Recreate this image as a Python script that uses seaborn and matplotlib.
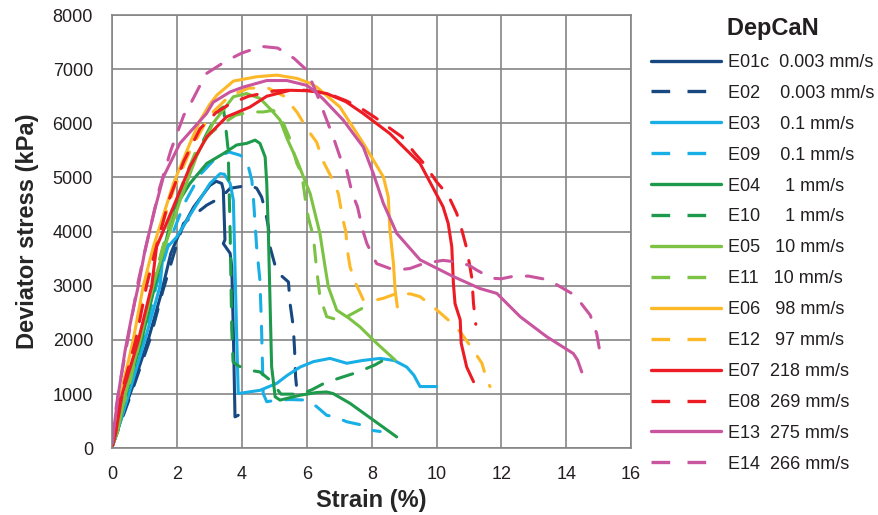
import numpy as np
import pandas as pd
import matplotlib
matplotlib.use("Agg")
import matplotlib.pyplot as plt
import seaborn as sns
from matplotlib.lines import Line2D

# ---------------- data ----------------
tests = ["E01c", "E02", "E03", "E09", "E04", "E10", "E05", "E11",
         "E06", "E12", "E07", "E08", "E13", "E14"]
legend_labels = ["E01c  0.003 mm/s", "E02    0.003 mm/s", "E03    0.1 mm/s",
                 "E09    0.1 mm/s", "E04     1 mm/s", "E10     1 mm/s",
                 "E05   10 mm/s", "E11   10 mm/s", "E06   98 mm/s",
                 "E12   97 mm/s", "E07  218 mm/s", "E08  269 mm/s",
                 "E13  275 mm/s", "E14  266 mm/s"]
legend_title = "DepCaN"
x_label = "Strain (%)"
y_label = "Deviator stress (kPa)"
x_ticks = [0, 2, 4, 6, 8, 10, 12, 14, 16]
y_ticks = [0, 1000, 2000, 3000, 4000, 5000, 6000, 7000, 8000]

e01c_strain = [0, 0.3, 0.6, 1.1, 1.5, 1.8, 2.05, 2.5, 3.0, 3.2, 3.37, 3.42, 3.47, 3.42, 3.63, 3.68, 3.73, 3.78, 3.88]
e01c_stress = [50, 600, 1100, 2000, 2850, 3600, 3950, 4450, 4850, 4930, 4890, 4770, 3850, 3780, 3600, 3350, 2120, 580, 610]

e02_strain = [0, 0.3, 0.6, 1.15, 1.55, 1.9, 2.19, 2.44, 2.91, 3.37, 3.63, 4.24, 4.45, 4.6, 4.71, 4.81, 4.86, 5.07, 5.43, 5.48, 5.58, 5.62, 5.65, 5.7]
e02_stress = [50, 550, 1050, 2000, 2900, 3600, 4150, 4270, 4490, 4640, 4800, 4860, 4800, 4640, 4400, 4090, 3720, 3260, 3070, 2670, 2240, 1800, 1320, 1010]

e03_strain = [0, 0.2, 0.5, 1.0, 1.47, 1.57, 1.75, 1.98, 2.49, 3.01, 3.32, 3.45, 3.63, 3.73, 3.78, 3.83, 3.88, 4.2, 4.55, 5.07, 5.4, 5.79, 6.2, 6.71, 7.23, 7.7, 8.26, 8.7, 9.08, 9.3, 9.49, 10.0]
e03_stress = [50, 400, 1000, 2000, 3000, 3660, 3750, 3900, 4400, 4890, 5070, 5060, 4890, 4580, 3350, 2120, 1010, 1040, 1070, 1200, 1350, 1500, 1600, 1660, 1570, 1620, 1660, 1620, 1500, 1350, 1140, 1140]

e09_strain = [0, 0.2, 0.45, 0.95, 1.35, 1.75, 2.2, 2.7, 3.22, 3.6, 3.94, 4.14, 4.3, 4.35, 4.45, 4.55, 4.6, 4.63, 4.65, 4.76, 5.07, 5.5, 5.99, 6.3, 6.61, 6.87, 7.23, 7.69, 7.9, 8.26]
e09_stress = [80, 500, 1000, 2000, 3000, 3800, 4500, 5050, 5380, 5470, 5410, 5320, 4950, 4600, 3700, 3100, 2200, 1500, 1010, 860, 890, 900, 890, 770, 610, 580, 490, 430, 340, 310]

e04_strain = [0, 0.15, 0.42, 0.9, 1.31, 1.6, 1.88, 2.39, 2.91, 3.42, 3.83, 4.14, 4.4, 4.55, 4.71, 4.76, 4.81, 4.86, 4.91, 5.02, 5.17, 5.79, 6.3, 6.61, 6.81, 7.33, 8.05, 8.77]
e04_stress = [50, 300, 1000, 2000, 3000, 3700, 4400, 4890, 5260, 5440, 5600, 5630, 5690, 5630, 5380, 4890, 3970, 2740, 1510, 950, 890, 980, 1030, 1040, 1010, 830, 520, 210]

e10_strain = [0, 0.4, 0.85, 1.25, 1.6, 2.0, 2.4, 2.9, 3.3, 3.42, 3.5, 3.57, 3.63, 3.68, 3.72, 3.83, 4.14, 4.55, 4.86, 5.2, 5.8, 6.15, 6.56, 7.12, 7.54, 8.1, 8.4]
e10_stress = [80, 1000, 2000, 3000, 3800, 4600, 5200, 5800, 6250, 6300, 5900, 5500, 4000, 2200, 1600, 1540, 1450, 1410, 1260, 1000, 1000, 1080, 1210, 1320, 1400, 1540, 1640]

e05_strain = [0, 0.15, 0.4, 0.85, 1.25, 1.6, 2.1, 2.6, 3.1, 3.73, 4.14, 4.55, 4.91, 5.17, 5.4, 5.69, 5.9, 6.1, 6.4, 6.56, 6.66, 6.92, 7.3, 7.64, 8.15, 8.72]
e05_stress = [50, 300, 1000, 2000, 3000, 3700, 4600, 5400, 6000, 6490, 6550, 6460, 6240, 6060, 5700, 5320, 5000, 4700, 3970, 3350, 2980, 2550, 2400, 2240, 1940, 1630]

e11_strain = [0, 0.2, 0.45, 0.85, 1.2, 1.5, 1.84, 2.2, 2.55, 3.0, 3.32, 3.8, 4.24, 4.65, 4.96, 5.2, 5.45, 5.69, 5.84, 5.95, 6.04, 6.2, 6.3, 6.4, 6.61, 6.9, 7.23, 7.69]
e11_stress = [80, 600, 1000, 2000, 2900, 3600, 4340, 4950, 5450, 5800, 5960, 6150, 6210, 6210, 6240, 6100, 5750, 5260, 5070, 4600, 4270, 3900, 3300, 2800, 2430, 2380, 2430, 2580]

e06_strain = [0, 0.1, 0.26, 0.64, 0.95, 1.26, 1.88, 2.39, 2.7, 3.0, 3.22, 3.73, 4.45, 5.07, 5.69, 6.1, 6.3, 7.02, 7.74, 8.36, 8.51, 8.56, 8.67, 8.72, 8.79]
e06_stress = [50, 400, 1000, 2000, 3000, 3720, 4890, 5630, 6050, 6350, 6520, 6780, 6860, 6890, 6830, 6740, 6670, 6300, 5630, 5010, 4640, 4030, 3410, 2930, 2610]

e12_strain = [0, 0.25, 0.66, 0.98, 1.3, 1.9, 2.4, 3.0, 3.6, 4.2, 4.8, 5.3, 5.7, 6.0, 6.3, 6.5, 6.8, 6.97, 7.1, 7.2, 7.25, 7.33, 7.5, 7.74, 8.0, 8.36, 8.77, 9.2, 9.49, 9.9, 10.36, 10.73, 11.09, 11.4, 11.55, 11.65]
e12_stress = [80, 1000, 2000, 3000, 3700, 4800, 5500, 6150, 6500, 6650, 6650, 6500, 6200, 5900, 5650, 5300, 4950, 4700, 4250, 4000, 3650, 3350, 3050, 2740, 2720, 2770, 2860, 2850, 2800, 2610, 2370, 2150, 1850, 1570, 1260, 1140]

e07_strain = [0, 0.1, 0.3, 0.8, 1.21, 1.36, 1.88, 2.39, 2.91, 3.52, 4.24, 4.76, 5.48, 6.1, 6.61, 7.2, 7.74, 8.56, 9.49, 10.2, 10.36, 10.47, 10.52, 10.57, 10.73, 10.76, 10.93, 11.14]
e07_stress = [50, 300, 1000, 2000, 3000, 3720, 4460, 5200, 5750, 6120, 6300, 6500, 6610, 6600, 6550, 6400, 6180, 5810, 5260, 4460, 4150, 3720, 3040, 2670, 2370, 1940, 1500, 1230]

e08_strain = [0, 0.1, 0.27, 0.72, 1.05, 1.3, 1.75, 2.2, 2.7, 3.2, 3.63, 4.2, 5.0, 5.8, 6.6, 7.2, 7.69, 8.1, 8.51, 8.93, 9.34, 9.65, 10.0, 10.36, 10.62, 10.78, 10.93, 11.03, 11.09, 11.14, 11.21]
e08_stress = [50, 300, 1000, 2000, 3000, 3600, 4600, 5300, 5900, 6200, 6360, 6500, 6600, 6620, 6560, 6420, 6270, 6110, 5930, 5750, 5440, 5230, 4920, 4670, 4340, 4030, 3690, 3350, 3140, 2670, 2290]

e13_strain = [0, 0.05, 0.18, 0.39, 0.59, 0.8, 1.0, 1.3, 1.57, 2.08, 2.9, 3.11, 3.63, 4.04, 4.76, 5.38, 6.0, 6.2, 6.5, 7.12, 7.74, 8.05, 8.36, 8.77, 9.49, 10.52, 11.34, 11.86, 12.58, 13.4, 14.22, 14.35, 14.48]
e13_stress = [100, 400, 1000, 1810, 2430, 3010, 3650, 4400, 5010, 5630, 6180, 6390, 6580, 6670, 6790, 6790, 6700, 6610, 6450, 6060, 5560, 5070, 4520, 3970, 3480, 3170, 2950, 2860, 2430, 2060, 1750, 1630, 1410]

e14_strain = [0, 0.05, 0.2, 0.5, 0.8, 1.1, 1.45, 1.8, 2.2, 2.39, 2.7, 2.9, 3.5, 4.0, 4.6, 5.1, 5.6, 6.0, 6.3, 6.61, 6.81, 7.02, 7.23, 7.4, 7.56, 7.72, 7.85, 8.15, 8.56, 8.9, 9.18, 9.59, 10.2, 10.62, 11.0, 11.24, 11.7, 12.0, 12.32, 12.83, 13.45, 13.91, 14.2, 14.43, 14.74, 14.94, 15.02]
e14_stress = [150, 500, 1100, 2100, 3100, 3900, 4800, 5500, 6150, 6340, 6700, 6920, 7150, 7300, 7420, 7390, 7200, 6980, 6550, 6060, 5750, 5380, 5130, 4700, 4460, 4030, 3780, 3410, 3320, 3300, 3320, 3410, 3470, 3440, 3380, 3290, 3140, 3130, 3170, 3180, 3110, 2950, 2850, 2700, 2460, 2120, 1850]

curves = {
    "E01c": (e01c_strain, e01c_stress), "E02": (e02_strain, e02_stress),
    "E03": (e03_strain, e03_stress), "E09": (e09_strain, e09_stress),
    "E04": (e04_strain, e04_stress), "E10": (e10_strain, e10_stress),
    "E05": (e05_strain, e05_stress), "E11": (e11_strain, e11_stress),
    "E06": (e06_strain, e06_stress), "E12": (e12_strain, e12_stress),
    "E07": (e07_strain, e07_stress), "E08": (e08_strain, e08_stress),
    "E13": (e13_strain, e13_stress), "E14": (e14_strain, e14_stress),
}

# ---------------- styles ----------------
base_colors = ["#17487F", "#17487F", "#18AEE6", "#18AEE6", "#1E9A4C", "#1E9A4C",
               "#7CC243", "#7CC243", "#FDB827", "#FDB827", "#ED1C24", "#ED1C24",
               "#C9559F", "#C9559F"]
palette = dict(zip(tests, base_colors))
line_w = 2.2
dash_pat = (5.5, 4.9)
dashes = {t: ("" if i % 2 == 0 else dash_pat) for i, t in enumerate(tests)}

frames = []
for t in tests:
    xs, ys = curves[t]
    frames.append(pd.DataFrame({"test": t, "strain": xs, "stress": ys,
                                "idx": np.arange(len(xs))}))
df = pd.concat(frames, ignore_index=True)

sns.set_style("white")
plt.rcParams["font.family"] = ["Liberation Sans", "DejaVu Sans"]

W, H = 879, 515
fig = plt.figure(figsize=(W / 100, H / 100), dpi=100)
x0, x1, y0, y1 = 112.5, 631.0, 448.3, 15.0
ax = fig.add_axes([x0 / W, 1 - y0 / H, (x1 - x0) / W, (y0 - y1) / H])

sns.lineplot(data=df, x="strain", y="stress", hue="test", style="test",
             hue_order=tests, style_order=tests, palette=palette,
             dashes=dashes, sort=False, estimator=None, linewidth=line_w,
             legend=False, ax=ax)
for ln in ax.lines:
    ln.set_solid_capstyle("round")
    ln.set_dash_capstyle("round")
    ln.set_solid_joinstyle("round")

ax.set_xlim(0, 16)
ax.set_ylim(0, 8000)
ax.set_xticks(x_ticks)
ax.set_yticks(y_ticks)
ax.set_xticklabels([str(v) for v in x_ticks])
ax.set_yticklabels([str(v) for v in y_ticks])
grid_c = "#858585"
ax.grid(True, color=grid_c, linewidth=1.2)
ax.set_axisbelow(True)
for s in ax.spines.values():
    s.set_color(grid_c)
    s.set_linewidth(1.2)
ax.tick_params(axis="both", which="major", direction="out", length=7,
               width=1.2, color=grid_c, labelsize=13, labelcolor="#231F20")
ax.tick_params(axis="y", pad=7)
ax.tick_params(axis="x", pad=6)
ax.set_xlabel(x_label, fontsize=17, fontweight="bold", labelpad=4)
ax.set_ylabel(y_label, fontsize=17, fontweight="bold", labelpad=10)

handles = [Line2D([], [], color=palette[t], linewidth=2.4,
                  linestyle=("-" if dashes[t] == "" else (0, (5.6, 5.2))))
           for t in tests]
leg = fig.legend(handles, legend_labels, loc="upper left",
                 bbox_to_anchor=(651.0 / W, 1 - 17 / H), frameon=False,
                 fontsize=13, handlelength=3.9, handletextpad=0.35,
                 labelspacing=0.77, borderpad=0, borderaxespad=0,
                 title="   " + legend_title,
                 title_fontproperties={"weight": "bold", "size": 17})
leg.get_title().set_color("#231F20")
for txt in leg.get_texts():
    txt.set_color("#231F20")

fig.savefig("out.png", dpi=100)
